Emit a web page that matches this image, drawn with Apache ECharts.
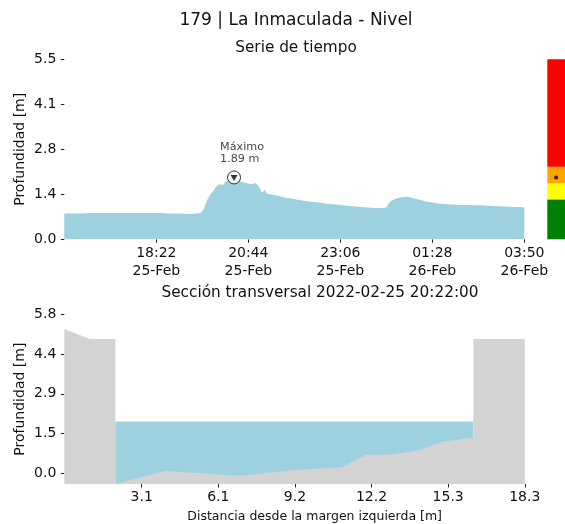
<!DOCTYPE html>
<html>
<head>
<meta charset="utf-8">
<script src="https://cdn.jsdelivr.net/npm/echarts@6/dist/echarts.min.js"></script>
<style>
  html, body { margin: 0; padding: 0; background: #fff; }
  #chart { width: 565px; height: 524px; }
</style>
</head>
<body>
<div id="chart"></div>
<script>
// ---------- Data ----------
const suptitle = '179 | La Inmaculada - Nivel';
const topTitle = 'Serie de tiempo';
const bottomTitle = 'Sección transversal 2022-02-25 20:22:00';

// time series: minutes since 2022-02-25 16:00
const minutesSinceStart = [0,10,20,30,40,50,60,70,80,90,100,110,120,130,140,150,160,170,180,190,200,210,215,220,225,230,235,240,245,250,255,260,262,265,270,275,280,285,290,295,300,303,305,308,310,312,315,320,330,340,350,360,370,380,390,400,410,420,430,440,450,460,470,480,490,497,500,505,510,515,520,525,530,535,540,550,560,570,580,590,600,610,620,630,640,650,660,670,680,690,700,710];
const levels = [0.79,0.79,0.79,0.79,0.80,0.80,0.80,0.80,0.80,0.80,0.80,0.80,0.80,0.80,0.80,0.80,0.79,0.79,0.79,0.77,0.78,0.80,0.92,1.18,1.35,1.48,1.62,1.68,1.66,1.80,1.78,1.86,1.89,1.82,1.78,1.74,1.73,1.70,1.68,1.72,1.62,1.56,1.42,1.45,1.52,1.40,1.38,1.37,1.33,1.28,1.25,1.21,1.18,1.15,1.13,1.10,1.08,1.06,1.04,1.02,1.00,0.98,0.97,0.96,0.96,0.97,1.08,1.18,1.22,1.26,1.28,1.30,1.30,1.28,1.25,1.20,1.15,1.12,1.09,1.07,1.06,1.05,1.05,1.04,1.04,1.03,1.02,1.01,1.00,0.99,0.99,0.98];
const totalMinutes = 710;
const topXTicks = [142, 284, 426, 568, 710];
const topXLabels = ['18:22\n25-Feb', '20:44\n25-Feb', '23:06\n25-Feb', '01:28\n26-Feb', '03:50\n26-Feb'];
const topYTicks = [0, 1.375, 2.75, 4.125, 5.5];
const topYLabels = ['0.0', '1.4', '2.8', '4.1', '5.5'];
const maxMinute = 262;
const maxLevel = 1.89;

// alert bands (upper limits)
const alertLimits = [1.22, 1.72, 2.22, 5.5];

// cross section
const sectionX   = [-0.03, 0.99, 2.0, 2.0, 3.98, 6.96, 9.15, 11.0, 11.98, 13.0, 13.97, 14.99, 16.25, 16.25, 18.3];
const sectionBed = [5.26, 4.90, 4.90, -0.39, 0.08, -0.09, 0.12, 0.22, 0.67, 0.69, 0.81, 1.15, 1.30, 4.90, 4.90];
const waterLevel = 1.89;
const waterFrom = 2.0;
const waterTo = 16.25;
const bottomXTicks = [3.05, 6.1, 9.15, 12.2, 15.25, 18.3];
const bottomXLabels = ['3.1', '6.1', '9.2', '12.2', '15.3', '18.3'];
const bottomYTicks = [0, 1.45, 2.9, 4.35, 5.8];
const bottomYLabels = ['0.0', '1.5', '2.9', '4.4', '5.8'];

// ---------- Helpers ----------
function lookup(ticks, labels) {
  return function (v) {
    let best = 0, d = Infinity;
    ticks.forEach((t, i) => { const dd = Math.abs(t - v); if (dd < d) { d = dd; best = i; } });
    return d < 1e-6 ? labels[best] : '';
  };
}
const FONT = 'DejaVu Sans';
const TXT = '#111';
const BLUE = '#9ed1e0';
const GRAY = '#d3d3d3';

const tsData = minutesSinceStart.map((m, i) => [m, levels[i]]);
const bedData = sectionX.map((x, i) => [x, sectionBed[i]]);
const waterData = [[waterFrom, waterLevel], [waterTo, waterLevel]];
const bands = alertLimits.map((v, i) => +(v - (i ? alertLimits[i - 1] : 0)).toFixed(4));
const bandColors = ['#008000', '#ffff00', '#ffa500', '#ff0000'];

function valueAxisBase(ticks, labels, extra) {
  return Object.assign({
    type: 'value',
    axisLine: { show: false, onZero: false },
    splitLine: { show: false },
    axisTick: { show: true, length: 3.5, customValues: ticks, lineStyle: { color: '#222', width: 1 } },
    axisLabel: { show: true, customValues: ticks, formatter: lookup(ticks, labels),
      fontFamily: FONT, fontSize: 14, color: TXT }
  }, extra);
}
const hidden = { width: 1, opacity: 0 };

const option = {
  animation: false,
  backgroundColor: '#fff',
  title: [
    { text: suptitle, left: 291, top: 7, textAlign: 'center',
      textStyle: { fontFamily: FONT, fontSize: 17, fontWeight: 'normal', color: TXT } },
    { text: topTitle, left: 291, top: 36, textAlign: 'center',
      textStyle: { fontFamily: FONT, fontSize: 15.3, fontWeight: 'normal', color: TXT } },
    { text: bottomTitle, left: 315, top: 281, textAlign: 'center',
      textStyle: { fontFamily: FONT, fontSize: 15.3, fontWeight: 'normal', color: TXT } }
  ],
  grid: [
    { left: 64.3, right: 40.7, top: 59.3, bottom: 284.7 },
    { left: 64.3, right: 0, top: 314.3, bottom: 40 },
    { left: 547.3, width: 20, top: 59.3, bottom: 284.7 }
  ],
  xAxis: [
    valueAxisBase(topXTicks, topXLabels, { gridIndex: 0, min: 0, max: totalMinutes,
      axisLabel: { customValues: topXTicks, formatter: lookup(topXTicks, topXLabels),
        fontFamily: FONT, fontSize: 14, color: TXT, lineHeight: 18, margin: 5 } }),
    valueAxisBase(bottomXTicks, bottomXLabels, { gridIndex: 1, min: -0.03, max: 19.9,
      name: 'Distancia desde la margen izquierda [m]', nameLocation: 'middle', nameGap: 26,
      nameMoveOverlap: false,
      nameTextStyle: { fontFamily: FONT, fontSize: 12.5, color: TXT },
      axisLabel: { customValues: bottomXTicks, formatter: lookup(bottomXTicks, bottomXLabels),
        fontFamily: FONT, fontSize: 14, color: TXT, margin: 6 } }),
    { type: 'category', gridIndex: 2, data: ['nivel'], show: false }
  ],
  yAxis: [
    valueAxisBase(topYTicks, topYLabels, { gridIndex: 0, min: 0, max: 5.5,
      name: 'Profundidad [m]', nameLocation: 'middle', nameGap: 36.5, nameMoveOverlap: false,
      nameTextStyle: { fontFamily: FONT, fontSize: 14, color: TXT },
      axisLabel: { customValues: topYTicks, formatter: lookup(topYTicks, topYLabels),
        fontFamily: FONT, fontSize: 14, color: TXT, margin: 8 } }),
    valueAxisBase(bottomYTicks, bottomYLabels, { gridIndex: 1, min: -0.39, max: 5.8,
      name: 'Profundidad [m]', nameLocation: 'middle', nameGap: 36.5, nameMoveOverlap: false,
      nameTextStyle: { fontFamily: FONT, fontSize: 14, color: TXT },
      axisLabel: { customValues: bottomYTicks, formatter: lookup(bottomYTicks, bottomYLabels),
        fontFamily: FONT, fontSize: 14, color: TXT, margin: 8 } }),
    { type: 'value', gridIndex: 2, min: 0, max: 5.5, show: false }
  ],
  series: [
    { type: 'line', xAxisIndex: 0, yAxisIndex: 0, data: tsData, symbol: 'none',
      lineStyle: hidden, areaStyle: { color: BLUE, opacity: 1 }, z: 2 },
    { type: 'scatter', xAxisIndex: 0, yAxisIndex: 0, data: [[maxMinute, maxLevel]],
      symbol: 'circle', symbolSize: 13,
      itemStyle: { color: '#fff', borderColor: '#000', borderWidth: 1 }, z: 5,
      label: { show: true, position: 'top', distance: 6, align: 'left', offset: [-14, 1],
        formatter: 'Máximo\n' + maxLevel.toFixed(2) + ' m',
        fontFamily: FONT, fontSize: 11.2, lineHeight: 12.5, color: TXT } },
    { type: 'scatter', xAxisIndex: 0, yAxisIndex: 0, data: [[maxMinute, maxLevel]],
      symbol: 'triangle', symbolRotate: 180, symbolSize: [7, 6], symbolOffset: [0, 0.5],
      itemStyle: { color: '#000' }, z: 6 },
    // alert bar
    ...bands.map((b, i) => ({
      type: 'bar', xAxisIndex: 2, yAxisIndex: 2, stack: 'alert', data: [b],
      barWidth: '100%', itemStyle: { color: bandColors[i] }, z: 2
    })),
    { type: 'scatter', xAxisIndex: 2, yAxisIndex: 2, data: [[0, maxLevel]],
      symbolSize: 4, itemStyle: { color: '#000' }, z: 5 },
    // cross section
    { type: 'line', xAxisIndex: 1, yAxisIndex: 1, data: waterData, symbol: 'none',
      lineStyle: hidden, areaStyle: { color: BLUE, opacity: 1, origin: 'start' }, z: 2 },
    { type: 'line', xAxisIndex: 1, yAxisIndex: 1, data: bedData, symbol: 'none',
      lineStyle: hidden, areaStyle: { color: GRAY, opacity: 1, origin: 'start' }, z: 3 }
  ]
};

const chart = echarts.init(document.getElementById('chart'), null, { renderer: 'canvas' });
chart.setOption(option);
</script>
</body>
</html>
